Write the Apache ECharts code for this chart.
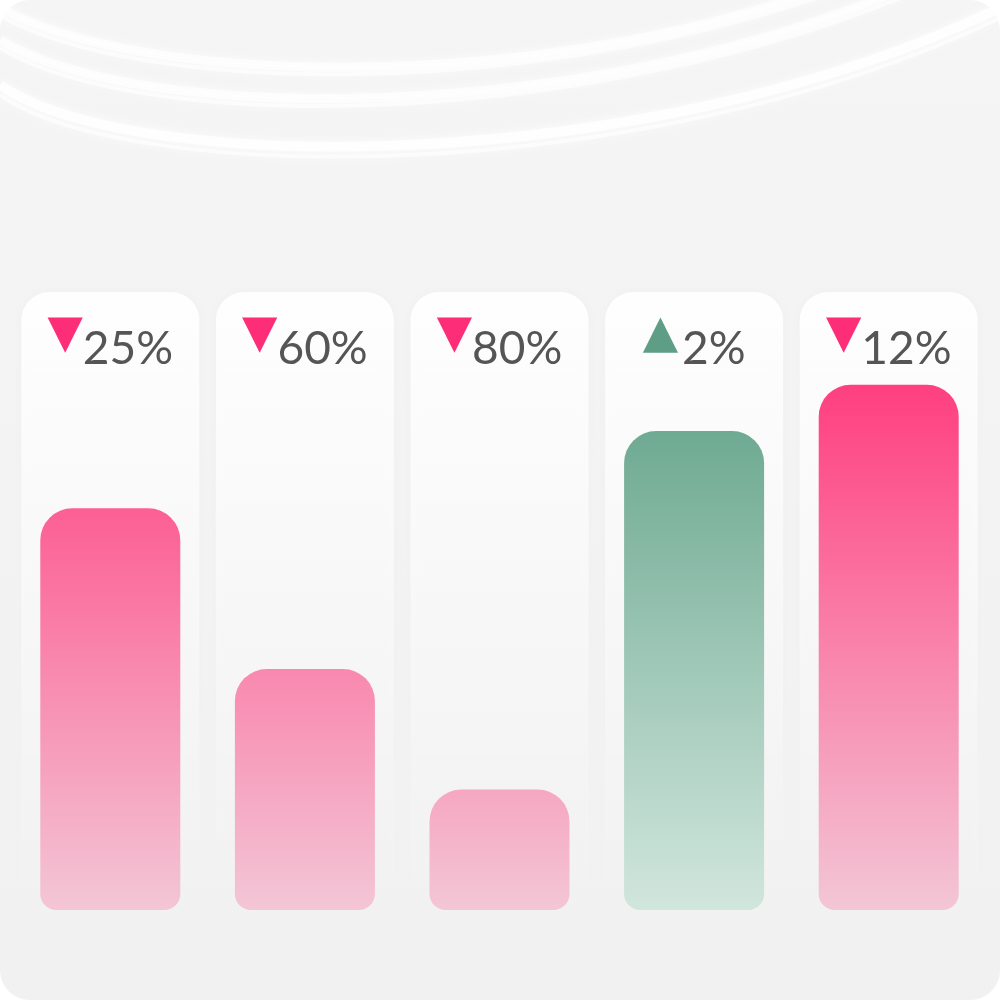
<!DOCTYPE html>
<html>
<head>
<meta charset="utf-8">
<script src="https://cdn.jsdelivr.net/npm/echarts@6/dist/echarts.min.js"></script>
<style>
  html, body { margin: 0; padding: 0; background: #ffffff; }
  #chart { width: 1000px; height: 1000px; }
</style>
</head>
<body>
<div id="chart"></div>
<script>
// ---- data ----
const categories = ['Item 1', 'Item 2', 'Item 3', 'Item 4', 'Item 5'];
const barValues = [65, 39, 19.5, 77.5, 85];
const changePercent = [25, 60, 80, 2, 12];
const changeDirection = ['down', 'down', 'down', 'up', 'down'];
const axisMax = 100;
const panelValues = categories.map(() => axisMax);

// ---- styles ----
const PINK_TOP = [255, 63, 128], PINK_BOTTOM = [243, 198, 214];
const GREEN_TOP = [111, 170, 146], GREEN_BOTTOM = [209, 230, 221];
function mix(a, b, t) {
  return 'rgb(' + a.map((v, i) => Math.round(v + (b[i] - v) * t)).join(',') + ')';
}
function barColor(v, dir) {
  const top = dir === 'up' ? GREEN_TOP : PINK_TOP;
  const bottom = dir === 'up' ? GREEN_BOTTOM : PINK_BOTTOM;
  const ref = Math.max.apply(null, barValues.filter((x, i) => changeDirection[i] === dir));
  return new echarts.graphic.LinearGradient(0, 0, 0, 1, [
    { offset: 0, color: mix(bottom, top, v / ref) },
    { offset: 1, color: mix(bottom, bottom, 0) }
  ]);
}

const chart = echarts.init(document.getElementById('chart'));

// decorative background arcs: [x1,y1,cpx1,cpy1,cpx2,cpy2,x2,y2,width,alpha]
const arcs = [
  [0, 8, 140, 85, 520, 95, 820, -10, 9, 0.7],
  [0, 16, 140, 93, 520, 103, 840, -10, 4, 0.6],
  [0, 40, 140, 125, 580, 125, 900, -10, 9, 0.7],
  [0, 48, 140, 133, 580, 133, 920, -10, 4, 0.6],
  [0, 85, 130, 175, 640, 180, 1000, 8, 10, 0.75],
  [0, 95, 130, 185, 640, 190, 1000, 18, 4, 0.6]
];

const graphics = [{
  type: 'rect', z: -10, silent: true,
  shape: { x: 0, y: 0, width: 1000, height: 1000, r: 30 },
  style: { fill: new echarts.graphic.LinearGradient(0, 0, 0, 1, [
    { offset: 0, color: '#f5f5f5' }, { offset: 1, color: '#f1f1f1' }]) }
}].concat(arcs.map(a => ({
  type: 'bezierCurve', z: -9, silent: true,
  shape: { x1: a[0], y1: a[1], cpx1: a[2], cpy1: a[3], cpx2: a[4], cpy2: a[5], x2: a[6], y2: a[7] },
  style: { stroke: 'rgba(255,255,255,' + a[9] + ')', lineWidth: a[8], fill: null,
           shadowBlur: 10, shadowColor: 'rgba(255,255,255,1)' }
})));

chart.setOption({
  animation: false,
  graphic: graphics,
  grid: { left: 13, right: 14, top: 292, bottom: 90 },
  xAxis: [
    { type: 'category', data: categories, show: false },
    { type: 'category', data: categories, show: false }
  ],
  yAxis: { type: 'value', min: 0, max: axisMax, show: false },
  series: [
    {
      type: 'bar', xAxisIndex: 1, barWidth: 178, z: 1, silent: true,
      data: panelValues,
      itemStyle: {
        borderRadius: [28, 28, 0, 0],
        color: new echarts.graphic.LinearGradient(0, 0, 0, 1, [
          { offset: 0, color: 'rgba(255,255,255,0.95)' },
          { offset: 0.5, color: 'rgba(255,255,255,0.5)' },
          { offset: 1, color: 'rgba(255,255,255,0)' }
        ]),
        shadowBlur: 10, shadowColor: 'rgba(0,0,0,0.02)'
      },
      label: {
        show: true, position: 'insideTop', distance: 20,
        formatter: p => {
          const d = changeDirection[p.dataIndex];
          return '{' + d + '|' + (d === 'down' ? '▼' : '▲') + '}{val|' + changePercent[p.dataIndex] + '%}';
        },
        rich: {
          down: { color: '#fd2d77', fontSize: 46, fontFamily: 'DejaVu Sans', verticalAlign: 'bottom', padding: [0, 0, 14, 0] },
          up: { color: '#5f9e86', fontSize: 46, fontFamily: 'DejaVu Sans', verticalAlign: 'bottom', padding: [0, 4, 14, 0] },
          val: { color: '#555555', fontSize: 46, fontFamily: 'Lato', verticalAlign: 'bottom' }
        }
      }
    },
    {
      type: 'bar', xAxisIndex: 0, barWidth: 140, z: 3,
      data: barValues.map((v, i) => ({
        value: v,
        itemStyle: { color: barColor(v, changeDirection[i]) }
      })),
      itemStyle: { borderRadius: [32, 32, 16, 16] }
    }
  ]
});
</script>
</body>
</html>
